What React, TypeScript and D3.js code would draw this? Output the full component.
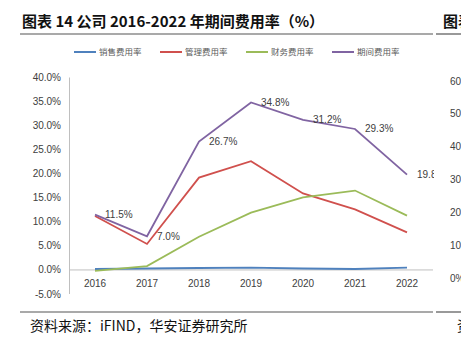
import React from "react";
import * as d3 from "d3";

const years = ["2016", "2017", "2018", "2019", "2020", "2021", "2022"];
const salesRate = [0.2, 0.3, 0.4, 0.5, 0.3, 0.2, 0.5];
const mgmtRate = [11.2, 5.4, 19.2, 22.6, 15.9, 12.6, 7.8];
const finRate = [-0.2, 0.8, 6.9, 11.9, 15.1, 16.5, 11.3];
const periodRate = [11.5, 7.0, 26.7, 34.8, 31.2, 29.3, 19.8];
const yTicks = [-5, 0, 5, 10, 15, 20, 25, 30, 35, 40];
const rightTicks = [0, 10, 20, 30, 40, 50, 60];
const seriesNames = ["销售费用率", "管理费用率", "财务费用率", "期间费用率"];
const seriesColors = ["#4F81BD", "#D0504D", "#9BBB59", "#8064A2"];

const W = 461;
const H = 342;

export default function App() {
  const x = d3.scaleBand<string>().domain(years).range([69, 433]);
  const y = d3.scaleLinear().domain([-5, 40]).range([294, 77.5]);
  const yR = d3.scaleLinear().domain([0, 60]).range([278, 81]);
  const cx = (d: string) => (x(d) as number) + x.bandwidth() / 2;
  const series = [salesRate, mgmtRate, finRate, periodRate];
  const line = d3
    .line<number>()
    .x((_, i) => cx(years[i]))
    .y((v) => y(v));
  const axisFont = "'Liberation Sans', Arial, sans-serif";
  const cjk = "'Noto Sans CJK SC', sans-serif";
  return (
    <svg
      width={W}
      height={H}
      style={{ position: "absolute", left: 0, top: 0, background: "#fff" }}
    >
      <defs>
        <clipPath id="plot">
          <rect x={69} y={60} width={365} height={250} />
        </clipPath>
      </defs>
      {/* title */}
      <text x={22} y={27} fontFamily={cjk} fontWeight={700} fontSize={15} fill="#111">
        图表 14 公司 2016-2022 年期间费用率（%）
      </text>
      <text x={443} y={27} fontFamily={cjk} fontWeight={700} fontSize={15} fill="#111">
        图表
      </text>
      <line x1={20} x2={433} y1={34} y2={34} stroke="#555" strokeWidth={1.2} />
      <line x1={436} x2={461} y1={34} y2={34} stroke="#555" strokeWidth={1.2} />
      {/* legend */}
      {seriesNames.map((n, i) => {
        const lx = 74 + i * 86;
        return (
          <g key={n}>
            <line x1={lx} x2={lx + 22} y1={52} y2={52} stroke={seriesColors[i]} strokeWidth={2} />
            <text x={lx + 25} y={55} fontFamily={cjk} fontSize={8.5} fill="#595959">
              {n}
            </text>
          </g>
        );
      })}
      {/* y axis */}
      <line x1={69.5} x2={69.5} y1={y(40)} y2={y(-5)} stroke="#BFBFBF" strokeWidth={1} />
      {yTicks.map((t) => (
        <text
          key={t}
          x={61}
          y={y(t) + 3.5}
          textAnchor="end"
          fontFamily={axisFont}
          fontSize={10}
          fill="#404040"
        >
          {t.toFixed(1) + "%"}
        </text>
      ))}
      {/* zero line */}
      <line x1={69} x2={433} y1={y(0)} y2={y(0)} stroke="#BFBFBF" strokeWidth={1} />
      {years.map((yr) => (
        <text
          key={yr}
          x={cx(yr)}
          y={287}
          textAnchor="middle"
          fontFamily={axisFont}
          fontSize={10}
          fill="#404040"
        >
          {yr}
        </text>
      ))}
      {/* lines */}
      <g clipPath="url(#plot)">
        {series.map((s, i) => (
          <path
            key={i}
            d={line(s) as string}
            fill="none"
            stroke={seriesColors[i]}
            strokeWidth={1.8}
          />
        ))}
        {periodRate.map((v, i) => (
          <text
            key={i}
            x={cx(years[i]) + 10}
            y={y(v) + 3.5}
            fontFamily={axisFont}
            fontSize={10}
            fill="#404040"
          >
            {v.toFixed(1) + "%"}
          </text>
        ))}
      </g>
      {/* partial right chart axis */}
      {rightTicks.map((t) => (
        <text
          key={t}
          x={450}
          y={yR(t) + 3.5}
          fontFamily={axisFont}
          fontSize={10}
          fill="#404040"
        >
          {t === 0 ? "0%" : t + "%"}
        </text>
      ))}
      {/* source */}
      <line x1={20} x2={433} y1={312} y2={312} stroke="#555" strokeWidth={1.2} />
      <line x1={436} x2={461} y1={312} y2={312} stroke="#555" strokeWidth={1.2} />
      <text x={30} y={331} fontFamily={cjk} fontSize={14} fill="#111">
        资料来源：iFIND，华安证券研究所
      </text>
      <text x={457} y={331} fontFamily={cjk} fontSize={14} fill="#111">
        资料
      </text>
    </svg>
  );
}
